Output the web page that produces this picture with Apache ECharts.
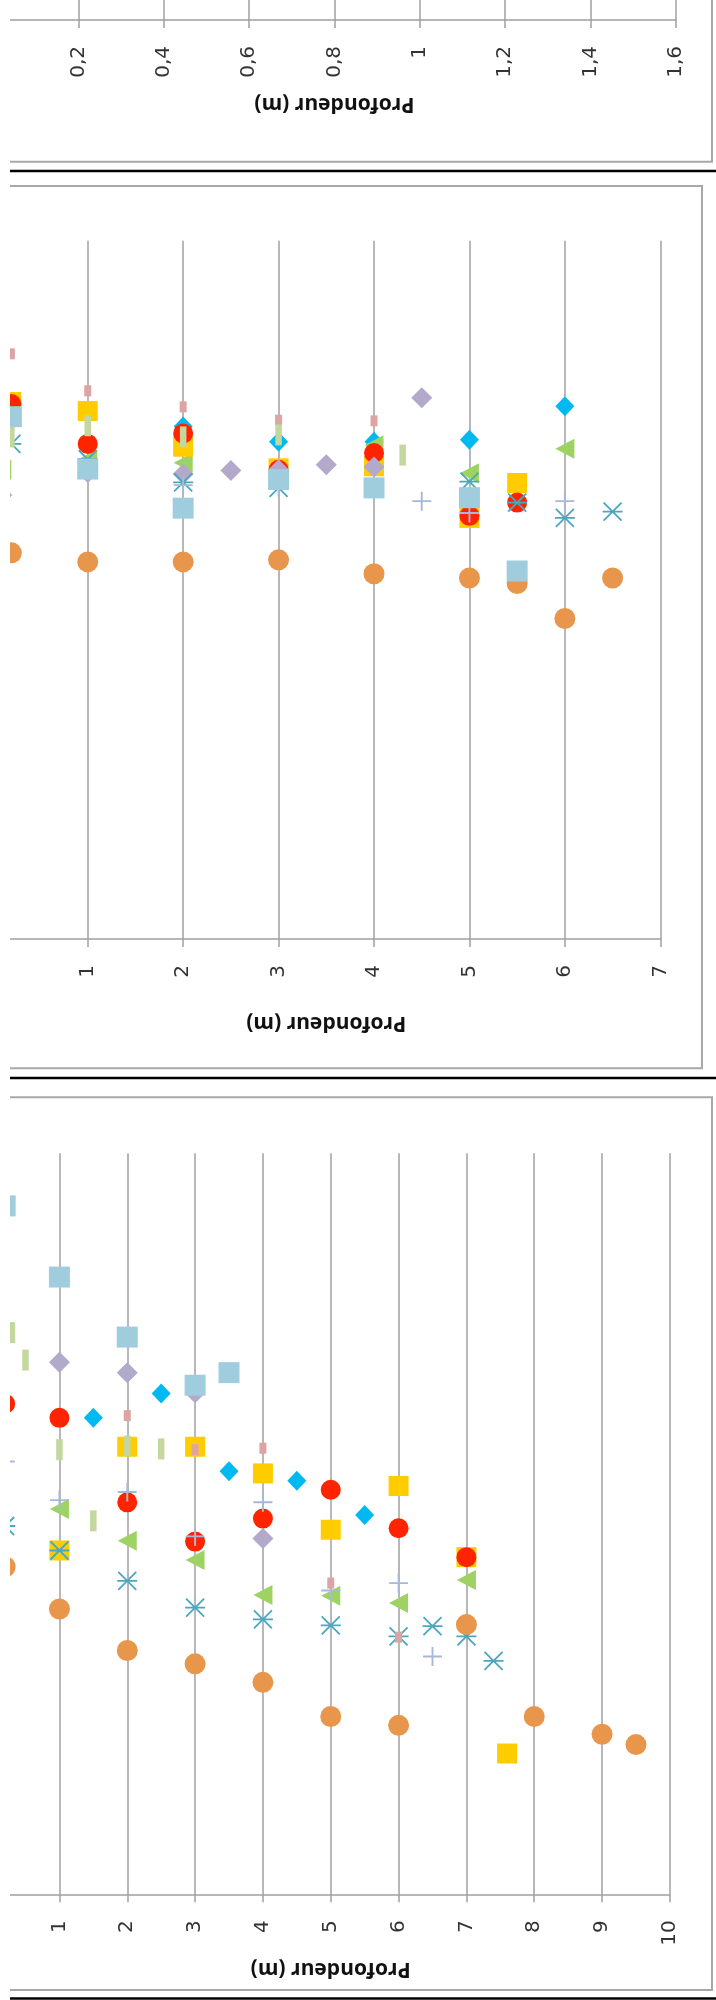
<!DOCTYPE html>
<html>
<head>
<meta charset="utf-8">
<script src="https://cdn.jsdelivr.net/npm/echarts@6/dist/echarts.min.js"></script>
<style>
  html, body { margin: 0; padding: 0; background: #fff; }
  #wrap { position: absolute; left: 10px; top: 0; width: 706px; height: 2000px; overflow: hidden; background: #fff; }
  #chart { position: absolute; left: -60px; top: -300px; width: 776px; height: 2300px; }
</style>
</head>
<body>
<div id="wrap"><div id="chart"></div></div>
<script>
// ---------- data (depth in m, value on the hidden axis) ----------
const axisName = 'Profondeur (m)';
const panel1Depth = { max: 1.6, interval: 0.2 };
const panel2Depth = { max: 7, interval: 1 };
const panel3Depth = { max: 10, interval: 1 };

// panel 2
const p2Orange   = [[0.2,55.3],[1,54.0],[2,54.0],[3,54.3],[4,52.3],[5,51.7],[5.5,50.9],[6,45.9],[6.5,51.7]];
const p2Cyan     = [[2,73.4],[3,71.2],[4,71.2],[5,71.5],[6,76.3]];
const p2Triangle = [[0.1,67.2],[1,68.7],[2,68.2],[4,70.7],[5,66.7],[6,70.2]];
const p2Yellow   = [[0.2,76.9],[1,75.6],[2,70.5],[3,67.4],[4,67.7],[5,60.3],[5.5,65.3]];
const p2Red      = [[0.2,76.6],[1,70.9],[2,72.4],[3,67.2],[4,69.6],[5,60.6],[5.5,62.5]];
const p2Purple   = [[0.1,63.6],[1,66.8],[2,66.6],[2.5,67.1],[3,67.2],[3.5,67.9],[4,67.6],[4.5,77.5]];
const p2Asterisk = [[0.2,70.9],[1,68.7],[2,65.4],[3,64.6],[5,65.5],[5.5,62.5],[6,60.3],[6.5,61.2]];
const p2Plus     = [[2,65.0],[3,64.7],[4.5,62.7],[5,61.0],[6,62.7]];
const p2Pink     = [[0.2,83.8],[1,78.5],[2,76.2],[3,74.3],[4,74.2]];
const p2Bar      = [[0.2,71.9],[1,73.5],[2,71.9],[3,72.2],[4.3,69.3]];
const p2Square   = [[0.2,74.8],[1,67.3],[2,61.7],[3,65.8],[4,64.6],[5,63.2],[5.5,52.7]];

// panel 3
const p3Orange   = [[0.2,44.2],[1,38.5],[2,32.9],[3,31.1],[4,28.6],[5,24.0],[6,22.8],[7,36.4],[8,24.0],[9,21.6],[9.5,20.2]];
const p3Cyan     = [[1.5,64.3],[2.5,67.6],[3.5,57.1],[4.5,55.8],[5.5,51.2]];
const p3Triangle = [[1,52.0],[2,47.7],[3,45.1],[4,40.4],[5,40.3],[6,39.3],[7,42.4]];
const p3Yellow   = [[1,46.4],[2,60.4],[3,60.4],[4,56.8],[5,49.2],[6,55.1],[7,45.5],[7.6,19.0]];
const p3Red      = [[0.2,66.2],[1,64.3],[2,52.9],[3,47.6],[4,50.7],[5,54.6],[6,49.4],[7,45.5]];
const p3Purple   = [[1,71.8],[2,70.4],[3,67.7],[4,48.0]];
const p3Asterisk = [[0.2,49.7],[1,46.4],[2,42.3],[3,38.7],[4,37.1],[5,36.3],[6,34.8],[6.5,36.2],[7,34.8],[7.4,31.5]];
const p3Plus     = [[0.2,58.4],[1,53.2],[2,54.3],[3,48.3],[4,52.9],[5,41.0],[6,42.0],[6.5,32.1]];
const p3Pink     = [[2,64.6],[3,60.0],[4,60.2],[5,42.0],[6,34.7]];
const p3Bar      = [[0.3,75.8],[0.5,72.1],[1,60.0],[1.5,50.4],[2,60.5],[2.5,60.1]];
const p3Square   = [[0.2,92.9],[1,83.3],[2,75.2],[3,68.7],[3.5,70.4]];

// ---------- styles ----------
const GRID_GRAY = '#A0A0A0';
const BORDER_GRAY = '#A8A8A8';
const PLUS_PATH = 'path://M-1,-10L1,-10L1,-1L10,-1L10,1L1,1L1,10L-1,10L-1,1L-10,1L-10,-1L-1,-1Z';
const STAR_PATH = 'path://M-10,-0.9L10,-0.9L10,0.9L-10,0.9Z' +
  'M-8.36,-9.64L9.64,8.36L8.36,9.64L-9.64,-8.36Z' +
  'M-8.36,9.64L-9.64,8.36L8.36,-9.64L9.64,-8.36Z';

const markerStyles = {
  cyan:     { symbol: 'diamond', symbolSize: [19, 20], color: '#00B9F2' },
  triangle: { symbol: 'triangle', symbolSize: [20, 19], symbolRotate: 90, color: '#9ED364' },
  yellow:   { symbol: 'rect', symbolSize: 20, color: '#FFCC00' },
  red:      { symbol: 'circle', symbolSize: 20, color: '#FF2400' },
  purple:   { symbol: 'diamond', symbolSize: 21, color: '#B3A9CB' },
  asterisk: { symbol: STAR_PATH, symbolSize: [20, 19.3], color: '#4BA6C0' },
  orange:   { symbol: 'circle', symbolSize: 21, color: '#E8964B' },
  plus:     { symbol: PLUS_PATH, symbolSize: 19, color: '#A8B8D8' },
  pink:     { symbol: 'rect', symbolSize: [7, 11], color: '#DDA4A4' },
  bar:      { symbol: 'rect', symbolSize: [6.5, 21], color: '#C4D79F' },
  square:   { symbol: 'rect', symbolSize: 21, color: '#A0CDDD' }
};

function sc(idx, key, data) {
  const st = markerStyles[key];
  return {
    type: 'scatter', xAxisIndex: idx, yAxisIndex: idx, data: data,
    symbol: st.symbol, symbolSize: st.symbolSize, symbolRotate: st.symbolRotate || 0,
    itemStyle: { color: st.color, opacity: 1 },
    clip: false, silent: true, emphasis: { disabled: true }
  };
}

function fmt(v) { return String(Math.round(v * 10) / 10).replace('.', ','); }

function depthAxis(idx, cfg, nameGap) {
  return {
    type: 'value', gridIndex: idx, min: 0, max: cfg.max, interval: cfg.interval,
    axisLine: { show: true, onZero: false, lineStyle: { color: GRID_GRAY, width: 1.5 } },
    axisTick: { show: true, length: 8, lineStyle: { color: GRID_GRAY, width: 1.5 } },
    splitLine: { show: true, lineStyle: { color: GRID_GRAY, width: 1.5 } },
    axisLabel: { rotate: 90, margin: 26, fontFamily: 'DejaVu Sans', fontSize: 20, color: '#333', formatter: fmt },
    name: axisName, nameLocation: 'middle', nameRotate: 180, nameGap: nameGap,
    nameTextStyle: { fontFamily: 'Open Sans', fontWeight: 'bold', fontSize: 21, color: '#111' }
  };
}
function hiddenY(idx) {
  return { type: 'value', gridIndex: idx, min: 0, max: 100, show: false,
           axisLine: { show: false }, splitLine: { show: false }, axisLabel: { show: false }, axisTick: { show: false } };
}

const order = ['cyan','triangle','yellow','red','purple','asterisk','orange','plus','pink','bar','square'];
const p2 = { cyan: p2Cyan, triangle: p2Triangle, yellow: p2Yellow, red: p2Red, purple: p2Purple, asterisk: p2Asterisk,
             orange: p2Orange, plus: p2Plus, pink: p2Pink, bar: p2Bar, square: p2Square };
const p3 = { cyan: p3Cyan, triangle: p3Triangle, yellow: p3Yellow, red: p3Red, purple: p3Purple, asterisk: p3Asterisk,
             orange: p3Orange, plus: p3Plus, pink: p3Pink, bar: p3Bar, square: p3Square };

const series = [];
order.forEach(k => series.push(sc(1, k, p2[k])));
order.forEach(k => series.push(sc(2, k, p3[k])));

function line(y, x1, x2, color, w) {
  return { type: 'line', silent: true, z: 0, shape: { x1: x1, y1: y, x2: x2, y2: y }, style: { stroke: color, lineWidth: w } };
}
function box(x, y, w, h) {
  return { type: 'rect', silent: true, z: 0, shape: { x: x, y: y, width: w, height: h }, style: { fill: null, stroke: BORDER_GRAY, lineWidth: 2 } };
}

const chart = echarts.init(document.getElementById('chart'), null, { renderer: 'canvas' });
chart.setOption({
  backgroundColor: '#fff',
  animation: false,
  grid: [
    { left: 43.2, top: 100, width: 682.6, height: 220 },
    { left: 42.3, top: 540.7, width: 668.0, height: 698.3 },
    { left: 41.6, top: 1453.3, width: 678.3, height: 741 }
  ],
  xAxis: [
    depthAxis(0, panel1Depth, 73),
    depthAxis(1, panel2Depth, 73),
    depthAxis(2, panel3Depth, 64)
  ],
  yAxis: [hiddenY(0), hiddenY(1), hiddenY(2)],
  graphic: [
    box(0, 0, 762, 461.7),
    line(471, 0, 776, '#000', 2.5),
    box(0, 486, 752, 882.3),
    line(1378, 0, 776, '#000', 2.5),
    box(0, 1397.3, 762, 892.7),
    line(2298.5, 0, 776, '#000', 2.5)
  ],
  series: series
});
</script>
</body>
</html>
